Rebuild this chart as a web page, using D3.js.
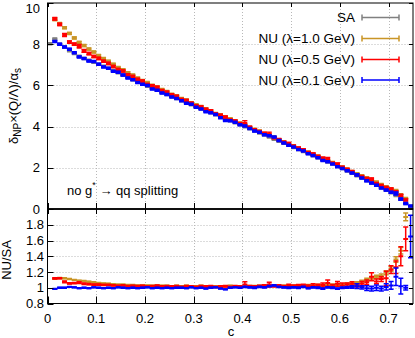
<!DOCTYPE html>
<html><head><meta charset="utf-8">
<script src="https://cdn.jsdelivr.net/npm/d3@7"></script>
<style>
body{margin:0;background:#fff}
svg{display:block}
text{font-family:"Liberation Sans",Arial,Helvetica,sans-serif;font-size:13px;fill:#000}
</style>
</head><body>
<svg id="chart" width="415" height="338"></svg>
<script>
// ---------------- DATA ----------------
const binWidth = 0.01;
const binLow = d3.range(75).map(i => +(i * binWidth).toFixed(2));

const saValues = [
 8.02,8.25,8.00,7.86,7.68,7.55,7.42,7.31,7.22,7.12,
 7.03,6.93,6.83,6.72,6.61,6.50,6.39,6.28,6.17,6.06,
 5.96,5.86,5.76,5.66,5.56,5.46,5.36,5.26,5.16,5.06,
 4.96,4.86,4.77,4.67,4.57,4.48,4.38,4.28,4.19,4.09,
 3.99,3.89,3.79,3.69,3.59,3.49,3.39,3.29,3.19,3.09,
 2.99,2.89,2.79,2.69,2.59,2.49,2.38,2.28,2.18,2.07,
 1.96,1.85,1.73,1.62,1.50,1.38,1.27,1.15,1.03,0.91,
 0.79,0.66,0.47,0.27,0.09];
const saErr = [
 0.03,0.03,0.03,0.03,0.03,0.03,0.03,0.03,0.03,0.03,
 0.02,0.02,0.02,0.02,0.02,0.02,0.02,0.02,0.02,0.02,
 0.02,0.02,0.02,0.02,0.02,0.02,0.02,0.02,0.02,0.02,
 0.02,0.02,0.02,0.02,0.02,0.02,0.02,0.02,0.02,0.02,
 0.015,0.015,0.015,0.015,0.015,0.015,0.015,0.015,0.015,0.015,
 0.015,0.015,0.015,0.015,0.015,0.015,0.015,0.015,0.015,0.015,
 0.015,0.015,0.015,0.015,0.015,0.015,0.015,0.015,0.015,0.015,
 0.015,0.015,0.015,0.015,0.015];

// NU / SA ratios
const ratio10 = [
 null,1.115,1.125,1.12,1.11,1.10,1.09,1.085,1.075,1.07,
 1.06,1.055,1.05,1.045,1.04,1.04,1.035,1.035,1.03,1.03,
 1.03,1.025,1.03,1.025,1.025,1.02,1.025,1.02,1.025,1.02,
 1.02,1.025,1.02,1.02,1.015,1.02,1.02,1.025,1.02,1.02,
 1.025,1.02,1.02,1.025,1.02,1.025,1.03,1.02,1.025,1.02,
 1.025,1.02,1.025,1.03,1.025,1.035,1.03,1.04,1.035,1.04,
 1.04,1.05,1.05,1.06,1.08,1.10,1.12,1.14,1.15,1.19,
 1.24,1.36,1.47,1.90,null];
const err10 = [
 0,0.006,0.006,0.006,0.006,0.006,0.006,0.006,0.006,0.006,
 0.006,0.006,0.006,0.006,0.006,0.006,0.006,0.006,0.006,0.006,
 0.006,0.006,0.006,0.006,0.006,0.006,0.006,0.006,0.006,0.006,
 0.006,0.006,0.006,0.006,0.006,0.006,0.006,0.006,0.006,0.006,
 0.008,0.008,0.008,0.008,0.008,0.008,0.008,0.008,0.008,0.008,
 0.008,0.008,0.008,0.01,0.01,0.01,0.01,0.012,0.012,0.012,
 0.01,0.01,0.012,0.015,0.015,0.02,0.02,0.02,0.025,0.025,
 0.03,0.035,0.04,0.05,0];

const ratio05 = [
 null,1.12,1.12,1.075,1.055,1.06,1.065,1.05,1.045,1.04,
 1.04,1.035,1.035,1.03,1.025,1.03,1.02,1.025,1.02,1.025,
 1.015,1.02,1.025,1.015,1.02,1.015,1.02,1.01,1.02,1.015,
 1.01,1.02,1.015,1.02,1.01,1.015,1.02,1.01,1.02,1.015,
 1.04,1.02,1.015,1.02,1.025,1.04,1.02,1.025,1.015,1.03,
 1.02,1.025,1.03,1.02,1.03,1.025,1.035,1.06,1.02,1.05,
 1.03,1.04,1.05,1.03,1.05,1.07,1.14,1.08,1.11,1.12,
 1.23,1.26,1.40,1.62,null];
const err05 = [
 0,0.008,0.007,0.01,0.008,0.008,0.012,0.01,0.008,0.008,
 0.008,0.008,0.008,0.008,0.008,0.008,0.008,0.008,0.008,0.008,
 0.008,0.01,0.01,0.01,0.01,0.01,0.01,0.01,0.01,0.01,
 0.01,0.01,0.01,0.01,0.01,0.01,0.01,0.01,0.01,0.01,
 0.035,0.01,0.01,0.012,0.012,0.03,0.012,0.012,0.012,0.015,
 0.015,0.015,0.015,0.015,0.02,0.02,0.025,0.04,0.02,0.03,
 0.03,0.02,0.025,0.02,0.03,0.03,0.05,0.03,0.03,0.09,
 0.05,0.08,0.12,0.15,0];

const ratio01 = [
 null,0.985,1.0,1.0,1.01,1.005,0.995,1.0,0.995,1.005,
 1.0,0.995,1.0,0.995,1.005,1.0,0.995,1.0,0.995,1.0,
 1.005,0.995,1.0,0.995,1.0,0.995,1.0,1.0,0.995,1.005,
 0.995,1.0,0.99,1.0,1.005,0.99,0.98,1.0,1.005,1.0,
 1.01,1.005,1.0,1.01,1.005,1.02,1.03,1.01,1.005,1.0,
 1.005,1.0,1.01,0.995,1.005,1.0,0.99,1.005,1.0,0.99,
 1.0,1.005,1.01,1.02,1.005,0.995,0.99,1.0,0.99,1.01,
 1.03,1.14,1.02,1.0,1.65];
const err01 = [
 0,0.005,0.005,0.005,0.005,0.005,0.005,0.005,0.005,0.005,
 0.005,0.005,0.005,0.005,0.005,0.005,0.005,0.005,0.005,0.005,
 0.005,0.005,0.005,0.005,0.005,0.005,0.005,0.005,0.005,0.005,
 0.005,0.005,0.005,0.005,0.005,0.005,0.005,0.005,0.005,0.005,
 0.008,0.008,0.008,0.008,0.008,0.008,0.008,0.008,0.008,0.008,
 0.008,0.008,0.008,0.008,0.008,0.008,0.008,0.008,0.008,0.008,
 0.01,0.012,0.015,0.03,0.02,0.03,0.03,0.035,0.03,0.04,
 0.05,0.11,0.10,0.03,0.27];

const seriesNames = ["SA", "NU (\u03bb=1.0 GeV)", "NU (\u03bb=0.5 GeV)", "NU (\u03bb=0.1 GeV)"];
const seriesColors = ["#808080", "#c99526", "#ff0000", "#0000ff"];
const xTicks = [0, 0.1, 0.2, 0.3, 0.4, 0.5, 0.6, 0.7];
const xTickLabels = ["0", "0.1", "0.2", "0.3", "0.4", "0.5", "0.6", "0.7"];
const yTopTicks = [0, 2, 4, 6, 8, 10];
const yBotTicks = [0.8, 1, 1.2, 1.4, 1.6, 1.8];
const yBotTickLabels = ["0.8", "1", "1.2", "1.4", "1.6", "1.8"];

// ---------------- LAYOUT ----------------
const svg = d3.select("#chart");
const X0 = 47.5, X1 = 413;
const TOP0 = 3, MID = 209, BOT1 = 303.5;
const x = d3.scaleLinear().domain([0, 0.75]).range([X0, X1]);
const yT = d3.scaleLinear().domain([0, 10]).range([MID, TOP0]);
const yB = d3.scaleLinear().domain([0.8, 2.0]).range([BOT1, MID]);

const defs = svg.append("defs");
defs.append("clipPath").attr("id", "clipTop").append("rect")
  .attr("x", X0).attr("y", TOP0).attr("width", X1 - X0).attr("height", MID - TOP0);
defs.append("clipPath").attr("id", "clipBot").append("rect")
  .attr("x", X0).attr("y", MID).attr("width", X1 - X0).attr("height", BOT1 - MID);

// grids
const grid = svg.append("g").attr("stroke", "#b8b8b8").attr("stroke-width", 1)
  .attr("stroke-dasharray", "1,2").attr("fill", "none");
xTicks.filter(t => t > 0).forEach(t => {
  grid.append("line").attr("x1", Math.round(x(t)) + 0.5).attr("x2", Math.round(x(t)) + 0.5)
    .attr("y1", TOP0).attr("y2", BOT1);
});
yTopTicks.filter(t => t > 0 && t < 10).forEach(t => {
  grid.append("line").attr("x1", X0).attr("x2", X1)
    .attr("y1", Math.round(yT(t)) + 0.5).attr("y2", Math.round(yT(t)) + 0.5);
});
yBotTicks.filter(t => t > 0.8).forEach(t => {
  grid.append("line").attr("x1", X0).attr("x2", X1)
    .attr("y1", Math.round(yB(t)) + 0.5).attr("y2", Math.round(yB(t)) + 0.5);
});

// draw a histogram-like point with error bar
function drawPoint(g, lo, v, e, ys, color, barW, errW) {
  const xa = x(lo), xb = x(lo + binWidth), xc = (xa + xb) / 2;
  const yv = ys(v);
  if (e > 0) {
    const y1 = ys(v - e), y2 = ys(v + e);
    g.append("line").attr("x1", xc).attr("x2", xc).attr("y1", y1).attr("y2", y2)
      .attr("stroke", color).attr("stroke-width", errW);
    [y1, y2].forEach(yy => g.append("line").attr("x1", xc - 2.5).attr("x2", xc + 2.5)
      .attr("y1", yy).attr("y2", yy).attr("stroke", color).attr("stroke-width", errW));
  }
  g.append("line").attr("x1", xa).attr("x2", xb).attr("y1", yv).attr("y2", yv)
    .attr("stroke", color).attr("stroke-width", barW);
}

// top panel
const gTop = svg.append("g").attr("clip-path", "url(#clipTop)");
saValues.forEach((v, i) => drawPoint(gTop, binLow[i], v, saErr[i], yT, seriesColors[0], 3.5, 1.3));
[[ratio10, err10], [ratio05, err05], [ratio01, err01]].forEach(([r, er], k) => {
  r.forEach((rv, i) => {
    if (rv == null) return;
    drawPoint(gTop, binLow[i], saValues[i] * rv, saValues[i] * er[i], yT, seriesColors[k + 1], 3.5, 1.3);
  });
});

// bottom panel
const gBot = svg.append("g").attr("clip-path", "url(#clipBot)");
[[ratio10, err10], [ratio05, err05], [ratio01, err01]].forEach(([r, er], k) => {
  r.forEach((rv, i) => {
    if (rv == null) return;
    drawPoint(gBot, binLow[i], rv, er[i], yB, seriesColors[k + 1], 2, 1.5);
  });
});

// frames & ticks
const fr = svg.append("g").attr("stroke", "#000").attr("fill", "none").attr("stroke-width", 1);
fr.append("rect").attr("x", X0).attr("y", TOP0).attr("width", X1 - X0).attr("height", MID - TOP0);
fr.append("rect").attr("x", X0).attr("y", MID).attr("width", X1 - X0).attr("height", BOT1 - MID);
fr.append("line").attr("x1", X0).attr("x2", X1).attr("y1", MID).attr("y2", MID).attr("stroke-width", 1.6);

xTicks.forEach(t => {
  const xx = Math.round(x(t)) + 0.5;
  fr.append("line").attr("x1", xx).attr("x2", xx).attr("y1", TOP0).attr("y2", TOP0 + 4);
  fr.append("line").attr("x1", xx).attr("x2", xx).attr("y1", MID - 6).attr("y2", MID + 5);
  fr.append("line").attr("x1", xx).attr("x2", xx).attr("y1", BOT1 - 7).attr("y2", BOT1);
});
yTopTicks.forEach(t => {
  const yy = Math.round(yT(t)) + 0.5;
  fr.append("line").attr("x1", X0).attr("x2", X0 + 6).attr("y1", yy).attr("y2", yy);
  fr.append("line").attr("x1", X1 - 4).attr("x2", X1).attr("y1", yy).attr("y2", yy);
});
yBotTicks.forEach(t => {
  const yy = Math.round(yB(t)) + 0.5;
  fr.append("line").attr("x1", X0).attr("x2", X0 + 6).attr("y1", yy).attr("y2", yy);
  fr.append("line").attr("x1", X1 - 4).attr("x2", X1).attr("y1", yy).attr("y2", yy);
});

// tick labels
const lab = svg.append("g");
yTopTicks.forEach(t => lab.append("text").attr("x", 40)
  .attr("y", t === 10 ? 12.5 : yT(t)).attr("dy", t === 10 ? 0 : "0.36em")
  .attr("text-anchor", "end").text(t));
yBotTicks.forEach((t, i) => lab.append("text").attr("x", 44).attr("y", yB(t)).attr("dy", "0.36em")
  .attr("text-anchor", "end").text(yBotTickLabels[i]));
xTicks.forEach((t, i) => lab.append("text").attr("x", x(t)).attr("y", 323)
  .attr("text-anchor", "middle").text(xTickLabels[i]));
lab.append("text").attr("x", 231).attr("y", 336).attr("text-anchor", "middle").text("c");

// axis titles
const yl = lab.append("text").attr("transform", "translate(18,106) rotate(-90)").attr("text-anchor", "middle");
yl.append("tspan").text("\u03b4");
yl.append("tspan").attr("dy", 3).attr("font-size", 10).text("NP");
yl.append("tspan").attr("dy", -3).text("\u00d7(Q/\u039b)/\u03b1");
yl.append("tspan").attr("dy", 3).attr("font-size", 10).text("s");
lab.append("text").attr("transform", "translate(11,260) rotate(-90)").attr("text-anchor", "middle").text("NU/SA");

// annotation
const ann = lab.append("text").attr("x", 67).attr("y", 195);
ann.append("tspan").text("no g");
ann.append("tspan").attr("dy", -7).attr("font-size", 9).text("*");
ann.append("tspan").attr("dy", 7).text(" \u2192 qq splitting");

// legend
const leg = svg.append("g");
const legY = [17.5, 38.5, 59.5, 80];
seriesNames.forEach((n, i) => {
  leg.append("text").attr("x", 355).attr("y", legY[i] + 4.5).attr("text-anchor", "end")
    .style("font-size", "13.5px").text(n);
  const c = seriesColors[i];
  leg.append("line").attr("x1", 362).attr("x2", 399).attr("y1", legY[i]).attr("y2", legY[i])
    .attr("stroke", c).attr("stroke-width", 1.5);
  [362, 399].forEach(xx => leg.append("line").attr("x1", xx).attr("x2", xx)
    .attr("y1", legY[i] - 3).attr("y2", legY[i] + 3).attr("stroke", c).attr("stroke-width", 1.5));
});
</script>
</body></html>
